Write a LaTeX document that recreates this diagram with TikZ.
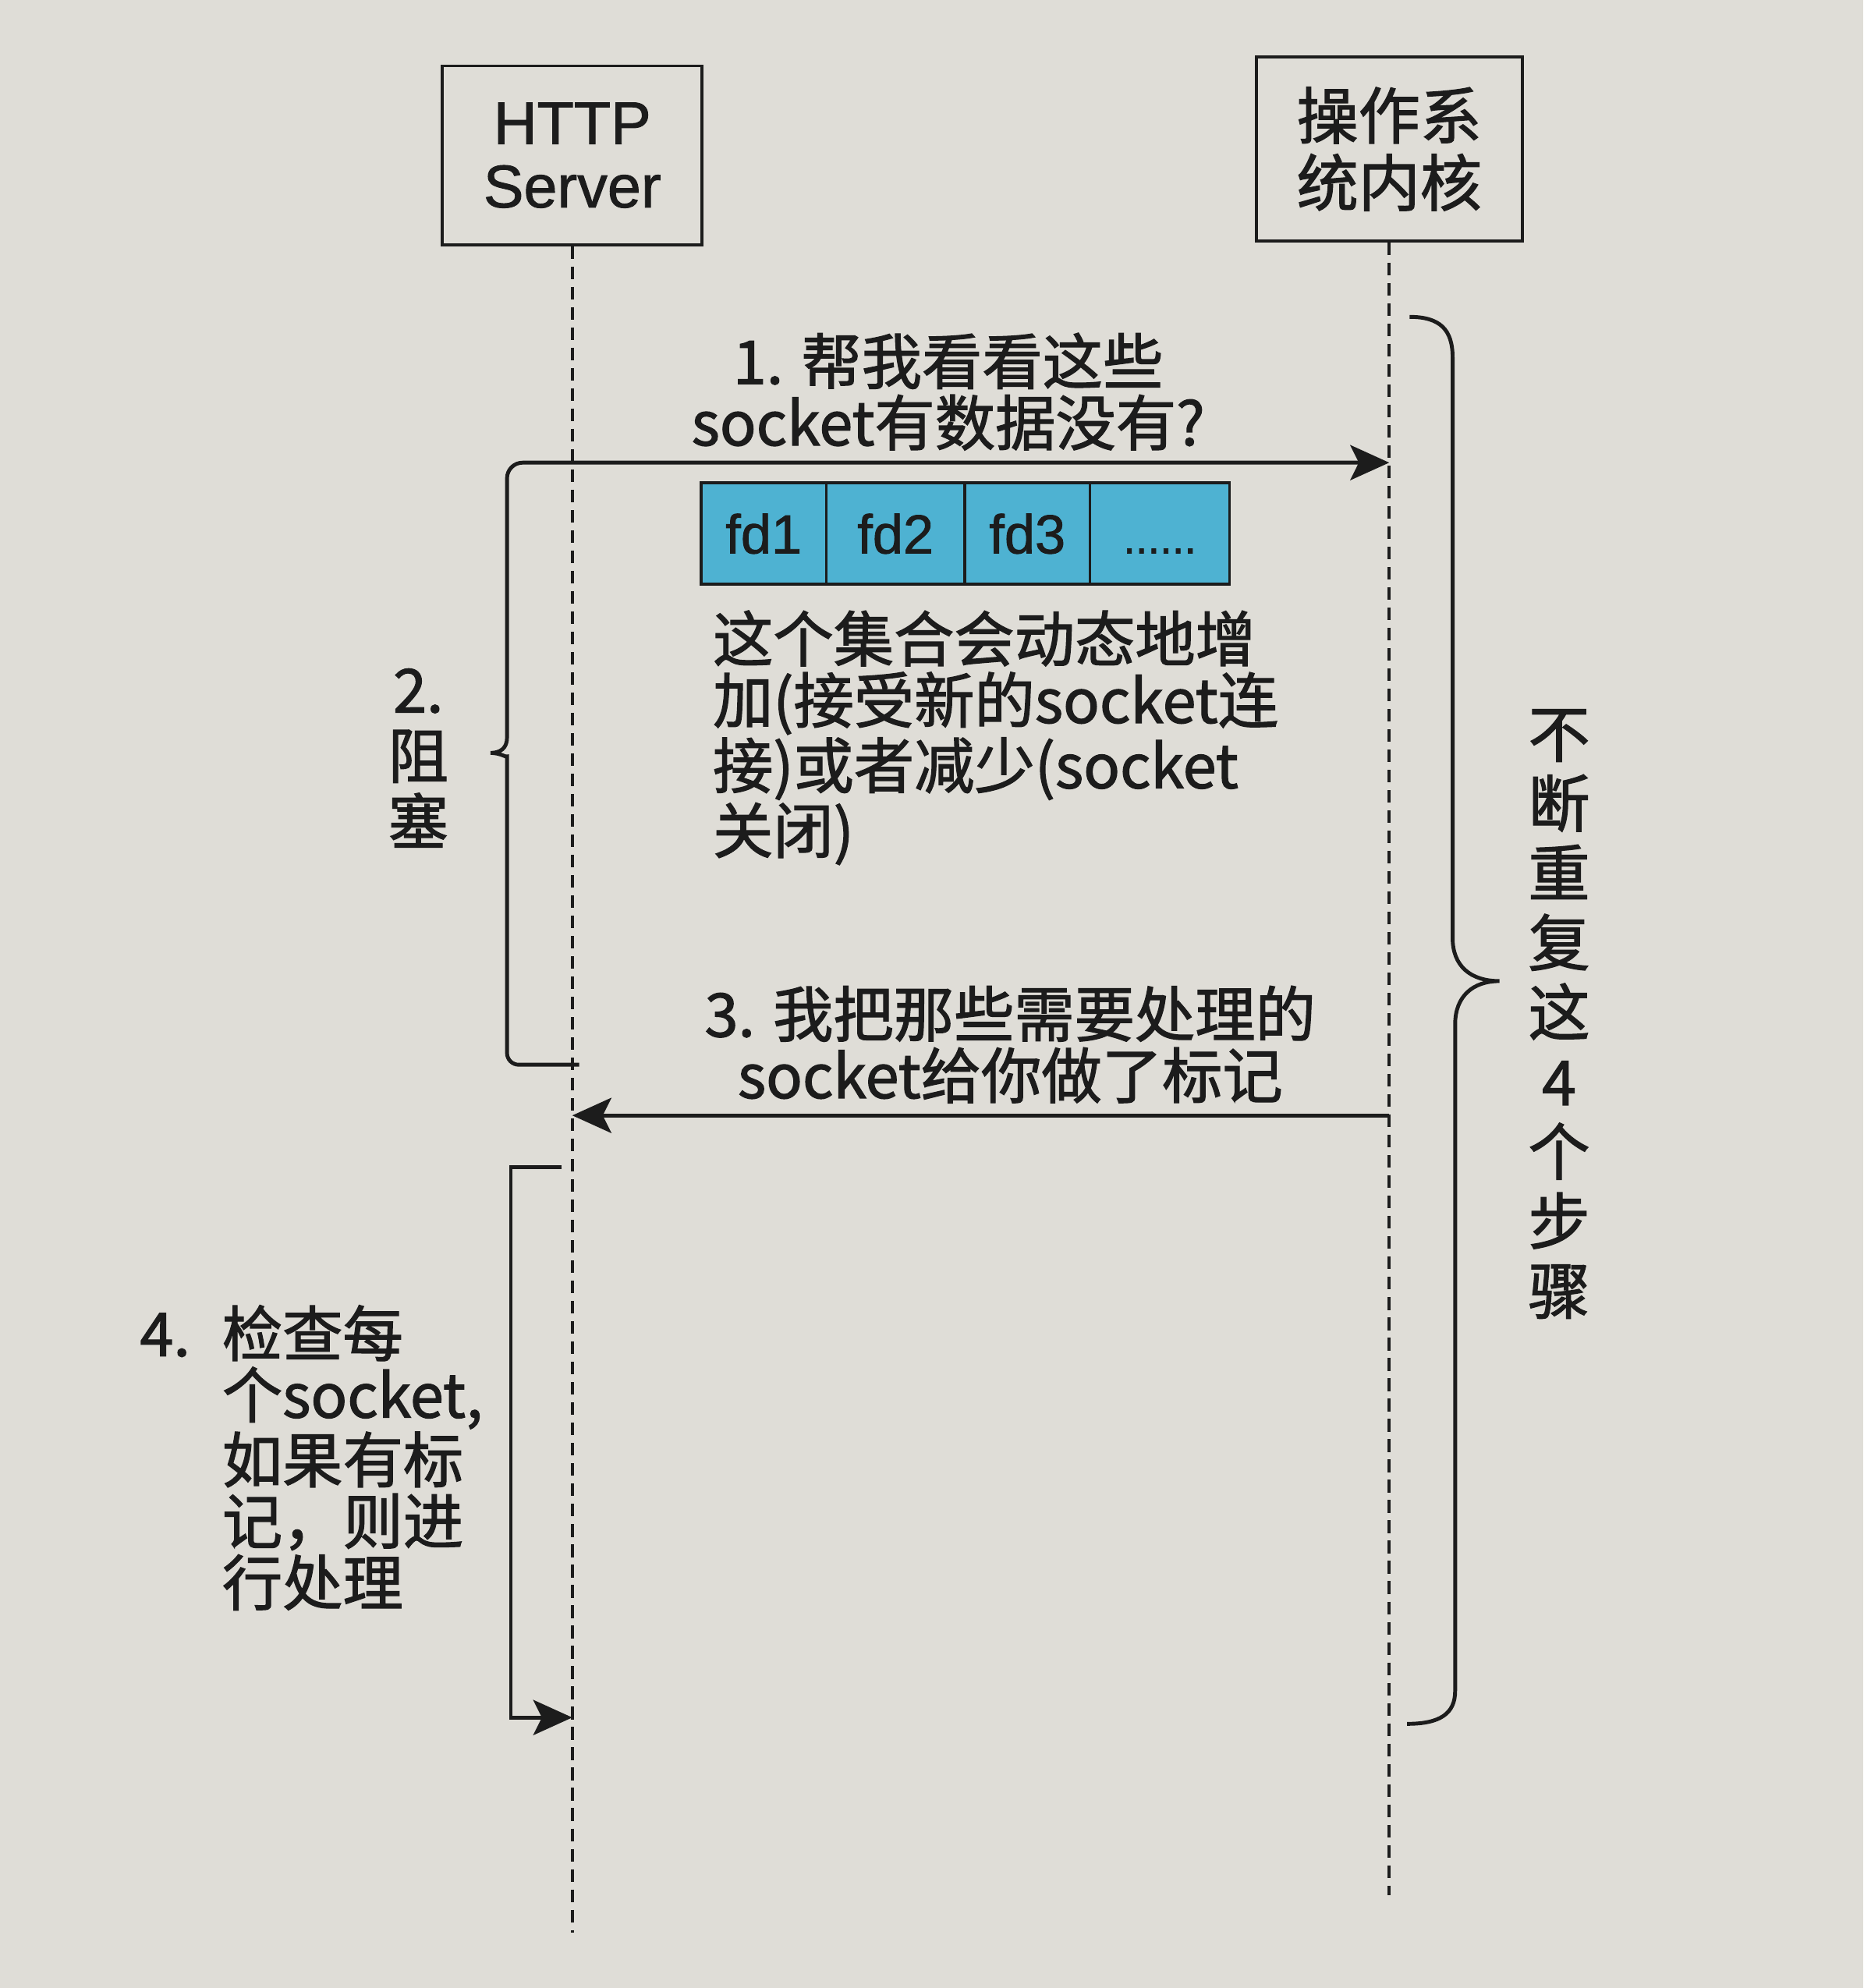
\documentclass[tikz,border=0pt]{standalone}
\usepackage{fontspec}
\setmainfont{Noto Sans CJK SC}[FakeBold=1.6]
\newfontfamily\latinsans{Liberation Sans}[FakeBold=1.2]
\usetikzlibrary{arrows.meta}
\definecolor{paper}{RGB}{223,221,215}
\definecolor{ink}{RGB}{28,28,28}
\definecolor{cellfill}{RGB}{78,178,210}
\begin{document}
\begin{tikzpicture}[x=0.016252cm, y=-0.016252cm,
  every node/.style={text=ink, inner sep=0pt},
  cjk/.style={font=\fontsize{22}{22.4}\selectfont},
  actor/.style={draw=ink, line width=1.1pt, inner sep=0pt, align=center},
  lifeline/.style={draw=ink, line width=1.1pt, dash pattern=on 4.6pt off 2.8pt},
  flow/.style={draw=ink, line width=1.4pt, -{Stealth[length=0.5cm, width=0.45cm, inset=0.11cm]}},
  bracket/.style={draw=ink, line width=1.4pt},
  cell/.style={draw=ink, line width=1pt, fill=cellfill, minimum height=1.3cm,
    outer sep=0pt, text height=14.4pt, text depth=0pt, anchor=west,
    font=\latinsans\fontsize{20}{20}\selectfont},
]
% paper
\fill[paper] (0,0) rectangle (1470,1568.4);
\useasboundingbox (0,0) rectangle (1470,1568.4);

% participants
\node[actor, minimum width=3.332cm, minimum height=2.292cm,
      font=\latinsans\fontsize{22}{23.1}\selectfont] (http) at (451.5,122.5) {HTTP\\Server};
\node[actor, minimum width=3.413cm, minimum height=2.357cm,
      font=\fontsize{22.5}{24.5}\selectfont] (kernel) at (1096,117.5) {操作系\\统内核};

% lifelines
\coordinate (httpEnd) at (451.5,1525);
\coordinate (kernelEnd) at (1096,1495);
\draw[lifeline] (http.south) -- (httpEnd);
\draw[lifeline] (kernel.south) -- (kernelEnd);

% step 1 request, drawn together with the blocking bracket of step 2
\coordinate (blockEnd) at (457,840);
\coordinate (askTip) at (kernel.south |- 0,365);
\draw[flow, rounded corners=0.15cm] (blockEnd) -- (400,840) -- (400,606)
  [sharp corners] .. controls (400,598) and (395,594) .. (387,594)
  .. controls (395,594) and (400,590) .. (400,582)
  [rounded corners=0.2cm] -- (400,365) -- (askTip);

% step 3 reply
\coordinate (markStart) at (kernel.south |- 0,880);
\coordinate (markTip) at (http.south |- 0,880);
\draw[flow] (markStart) -- (markTip);

% step 4 self loop
\coordinate (checkStart) at (443,921);
\coordinate (checkTip) at (http.south |- 0,1355);
\draw[flow] (checkStart) -- (403,921) -- (403,1355) -- (checkTip);

% repeat brace
\draw[bracket] (1112,250) .. controls (1136,250) and (1146,260) .. (1146,282)
  -- (1146,740) .. controls (1146,762) and (1160,774) .. (1183,774)
  .. controls (1162,774) and (1148,786) .. (1148,808)
  -- (1148,1334) .. controls (1148,1352) and (1136,1360) .. (1110,1360);

% labels
\node[cjk, align=center] (ask) at (748,309) {1. 帮我看看这些\\socket有数据没有?};

\node[cell, minimum width=1.609cm] (fd1) at (553,421) {fd1};
\node[cell, minimum width=1.771cm] (fd2) at (fd1.east) {fd2};
\node[cell, minimum width=1.609cm] (fd3) at (fd2.east) {fd3};
\node[cell, minimum width=1.788cm, font=\latinsans\fontsize{16}{16}\selectfont] (fdmore) at (fd3.east) {......};

\node[cjk, align=left, anchor=west] (setnote) at (562,582)
  {这个集合会动态地增\\加(接受新的socket连\\接)或者减少(socket\\关闭)};

\node[align=center, font=\fontsize{22}{24}\selectfont] (blocked) at (330,598) {2.\\阻\\塞};

\node[cjk, align=center] (mark) at (797,824) {3. 我把那些需要处理的\\socket给你做了标记};

\node[cjk, align=left, anchor=west] (check) at (110,1150)
  {\makebox[30pt][l]{4.}检查每\\\hspace*{30pt}个socket,\\\hspace*{30pt}如果有标\\\hspace*{30pt}记，则进\\\hspace*{30pt}行处理};

\node[align=center, font=\fontsize{22.5}{25.4}\selectfont] (repeat) at (1230,800)
  {不\\断\\重\\复\\这\\4\\个\\步\\骤};
\end{tikzpicture}
\end{document}
